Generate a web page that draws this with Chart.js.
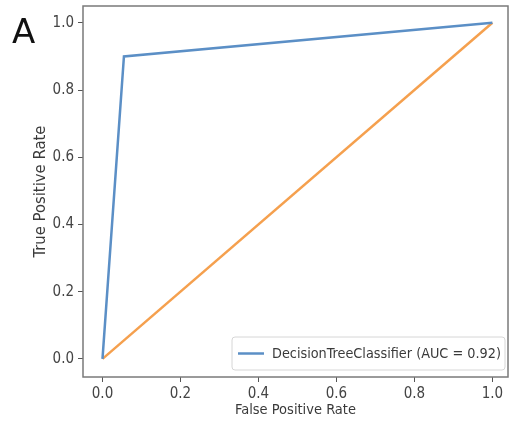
<!DOCTYPE html>
<html>
<head>
<meta charset="utf-8">
<script src="https://cdn.jsdelivr.net/npm/chart.js@4"></script>
<style>
  html, body { margin: 0; padding: 0; background: #fff; overflow: hidden; }
  #wrap { position: relative; width: 510px; height: 435px; }
  #panel { position: absolute; left: 12px; top: 11px; font: 34px "DejaVu Sans", sans-serif; color: #111; }
</style>
</head>
<body>
<div id="wrap">
  <canvas id="roc" width="510" height="435"></canvas>
  <div id="panel">A</div>
</div>
<script>
// curva ROC
const fpr = [0, 0.055, 1];
const tpr = [0, 0.9, 1];
const chanceX = [0, 1];
const chanceY = [0, 1];
const tickValues = [0, 0.2, 0.4, 0.6, 0.8, 1.0];
const legendText = 'DecisionTreeClassifier (AUC = 0.92)';

const FONT = '"DejaVu Sans Condensed", "DejaVu Sans", sans-serif';

const frame = {
  id: 'frame',
  afterDraw(chart) {
    const c = chart.ctx, a = chart.chartArea;
    c.save();
    c.strokeStyle = '#7a7a7a';
    c.lineWidth = 1.5;
    c.strokeRect(a.left, a.top, a.right - a.left, a.bottom - a.top);
    // leyenda
    const bx = 232, by = 337, bw = 273, bh = 33;
    c.fillStyle = 'rgba(255,255,255,0.85)';
    c.strokeStyle = '#d6d6d6';
    c.lineWidth = 1;
    c.beginPath();
    c.roundRect(bx, by, bw, bh, 3);
    c.fill(); c.stroke();
    c.strokeStyle = '#5b8fc6';
    c.lineWidth = 2.5;
    c.beginPath();
    c.moveTo(bx + 6, by + bh / 2);
    c.lineTo(bx + 32, by + bh / 2);
    c.stroke();
    c.fillStyle = '#3a3a3a';
    c.font = '14.3px ' + FONT;
    c.textBaseline = 'middle';
    c.fillText(legendText, bx + 40, by + bh / 2 + 1);
    c.restore();
  }
};

new Chart(document.getElementById('roc'), {
  type: 'scatter',
  data: {
    datasets: [{
      label: legendText,
      data: fpr.map((x, i) => ({x: x, y: tpr[i]})),
      showLine: true,
      borderColor: '#5b8fc6',
      borderWidth: 2.5,
      pointRadius: 0
    }, {
      label: 'chance',
      data: chanceX.map((x, i) => ({x: x, y: chanceY[i]})),
      showLine: true,
      borderColor: '#f5a04e',
      borderWidth: 2.5,
      pointRadius: 0
    }]
  },
  options: {
    responsive: false,
    animation: false,
    layout: { padding: { top: 6, right: 2, left: 31, bottom: 12 } },
    plugins: { legend: { display: false }, tooltip: { enabled: false } },
    scales: {
      x: {
        type: 'linear', min: -0.05, max: 1.04,
        afterBuildTicks: s => { s.ticks = tickValues.map(v => ({value: v})); },
        afterFit: s => { s.height = 46; s.paddingLeft = 0; s.paddingRight = 0; },
        ticks: { callback: v => v.toFixed(1), color: '#444', font: {family: FONT, size: 15}, padding: 3, maxRotation: 0 },
        grid: { drawOnChartArea: false, drawTicks: true, tickLength: 5, color: '#555' },
        border: { display: false },
        title: { display: true, text: 'False Positive Rate', color: '#3a3a3a', font: {family: FONT, size: 14.5}, padding: {top: 2} }
      },
      y: {
        type: 'linear', min: -0.054, max: 1.05,
        afterBuildTicks: s => { s.ticks = tickValues.map(v => ({value: v})); },
        afterFit: s => { s.width = 52; s.paddingTop = 0; s.paddingBottom = 0; },
        ticks: { callback: v => v.toFixed(1), color: '#444', font: {family: FONT, size: 15}, padding: 4 },
        grid: { drawOnChartArea: false, drawTicks: true, tickLength: 5, color: '#555' },
        border: { display: false },
        title: { display: true, text: 'True Positive Rate', color: '#3a3a3a', font: {family: FONT, size: 16.5}, padding: {top: 0, bottom: 4} }
      }
    }
  },
  plugins: [frame]
});
</script>
</body>
</html>
